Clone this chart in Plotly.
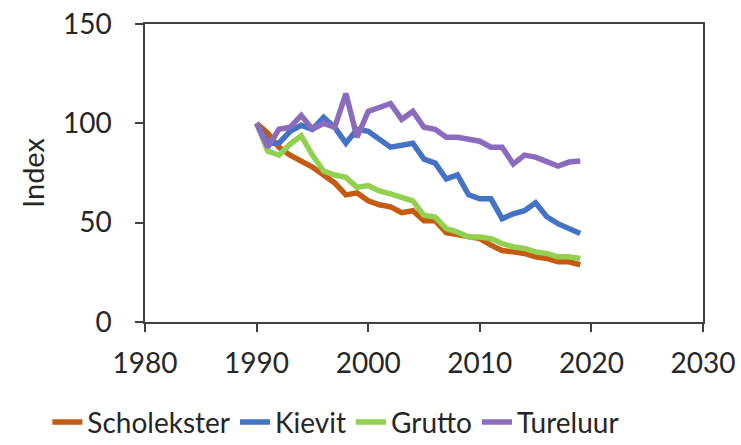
import plotly.graph_objects as go

years = list(range(1990, 2020))

scholekster = [100, 95, 88, 84, 81, 78, 74, 70, 64, 65, 61, 59, 58, 55, 56, 51, 51, 45, 44, 43,
               42, 38.7, 36, 35.3, 34.5, 32.8, 32, 30.3, 30.3, 28.7]
kievit = [100, 90, 90, 96, 99, 97, 103, 98, 90, 97, 96, 92, 88, 89, 90, 82, 80, 72, 74, 64,
          62, 62, 52, 54.5, 56, 60, 53, 49.5, 47, 44.5]
grutto = [100, 86, 84, 89.5, 93.7, 84, 76, 74, 72.8, 67.8, 68.7, 66, 64.5, 62.8, 61, 53.7, 52.8, 47, 45.3, 42.8,
          42.8, 42, 39.5, 37.8, 37, 35.3, 34.5, 32.8, 32.8, 32]
tureluur = [100, 88, 97, 98, 104, 97, 100, 98, 115, 93, 106, 108, 110, 102, 106, 98, 97, 93, 93, 92,
            91, 88, 88, 79.5, 84, 83, 81, 78.5, 80.5, 81]

series = [
    ("Scholekster", scholekster, "#C55A11"),
    ("Kievit", kievit, "#4472C4"),
    ("Grutto", grutto, "#92D050"),
    ("Tureluur", tureluur, "#8B6BBE"),
]

x_ticks = [1980, 1990, 2000, 2010, 2020, 2030]
y_ticks = [0, 50, 100, 150]

FONT = "Lato"
TXT = "#262626"

fig = go.Figure()
for name, vals, color in series:
    fig.add_trace(go.Scatter(x=years, y=vals, mode="lines", name=name,
                             line=dict(color=color, width=5.5)))

axis_common = dict(showline=True, linecolor="#404040", linewidth=1.5, mirror=True,
                   showgrid=False, zeroline=False, ticks="outside", ticklen=8,
                   tickcolor="#404040", tickwidth=1.5, automargin=False,
                   ticklabeloverflow="allow",
                   tickfont=dict(family=FONT, size=28, color=TXT))

fig.update_layout(
    width=741, height=460,
    margin=dict(l=145, r=38, t=24, b=136),
    paper_bgcolor="white", plot_bgcolor="white",
    font=dict(family=FONT, color=TXT),
    xaxis=dict(range=[1980, 2030], tickvals=x_ticks, ticklabelstandoff=8, **axis_common),
    yaxis=dict(range=[0, 150], tickvals=y_ticks, ticklabelstandoff=18,
               title=dict(text="Index", font=dict(family=FONT, size=29, color=TXT), standoff=10),
               **axis_common),
    legend=dict(orientation="h", x=-0.175, xanchor="left", y=-0.253, yanchor="top",
                font=dict(family=FONT, size=28, color=TXT),
                itemwidth=30, tracegroupgap=0, bgcolor="rgba(0,0,0,0)"),
    showlegend=True,
)

fig.write_html("out.html", config={"displayModeBar": False},
               post_script="document.body.style.margin='0';document.body.style.overflow='hidden';")
